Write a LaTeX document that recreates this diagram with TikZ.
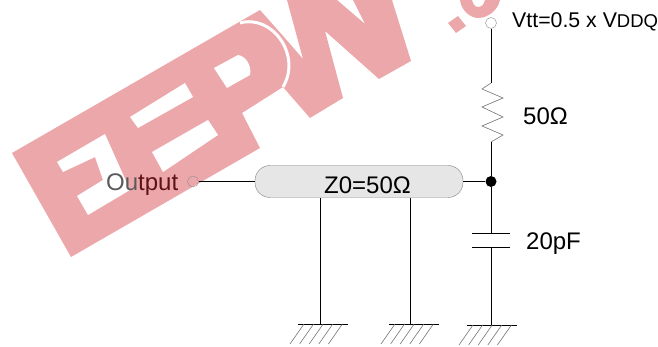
\documentclass[tikz,border=0pt]{standalone}
\usepackage{fontspec}
\setmainfont{Liberation Sans}
\definecolor{markpink}{HTML}{ECA7AB}
\definecolor{pillgray}{HTML}{E6E6E6}
\definecolor{outdark}{HTML}{5A5A5A}
\definecolor{outred}{HTML}{5E1218}
\begin{document}
\begin{tikzpicture}[x=1pt,y=-1pt]
	\tikzstyle{wire}=[draw=black,line width=1pt]
	\tikzstyle{thin part}=[draw=black!55,line width=0.6pt]
	\tikzstyle{port}=[circle,draw=black!45,minimum size=11pt,inner sep=0pt]
	\tikzstyle{junction}=[circle,fill=black,minimum size=11pt,inner sep=0pt]
	\tikzstyle{pill}=[draw=black!50,fill=pillgray,rounded corners=15pt,minimum width=208pt,minimum height=32pt,inner sep=0pt]
	\tikzstyle{annot}=[anchor=base west,inner sep=0pt,font=\fontsize{24}{24}\selectfont]
	\tikzstyle{stamp}=[fill=markpink,draw=none]
	\tikzstyle{hole}=[fill=white,draw=none]

	\useasboundingbox (0,0) rectangle (658,347);

	% Draw the watermark
	\path[stamp] (12,153) -- (71,257) -- (260,148) -- (242,113) -- (283,87) -- (310,118) -- (343,98) -- (325,31) -- (379,79) -- (411,61) -- (392,0) -- (353,0) -- (365,24) -- (337,0) -- (287,0) -- (303,59) -- (284,37) -- (260,10) -- cycle;
	\path[hole] (130,117) -- (185,83) -- (193,97) -- (138,128) -- cycle;
	\path[hole] (152,152) -- (208,120) -- (218,135) -- (163,172) -- cycle;
	\path[hole] (214,68) -- (238,55) .. controls (246,56) and (252,66) .. (250,75) -- (227,88) -- cycle;
	\path[hole] (57,162) -- (105,134) -- (130,190) -- (88,215) -- (77,196) -- (103,180) -- (95,157) -- (63,172) -- cycle;
	\draw[white,line width=3pt] (240,23) .. controls (272,14) and (302,55) .. (283,87);
	\path[stamp] (448,23) -- (458,16) -- (466,26) -- (456,33) -- cycle;
	\path[stamp] (460,0) .. controls (461,10) and (470,18) .. (478,18) .. controls (488,18) and (498,10) .. (500,0) -- (485,0) .. controls (484,5) and (481,7) .. (478,7) .. controls (475,7) and (473,4) .. (472,0) -- cycle;

	% Draw the terminals and the line
	\node[port] (output) at (193,181.5) {};
	\node[port] (vtt) at (491,23) {};
	\node[pill] (line) at (359,181.5) {};
	\node[junction] (join) at (491,181.5) {};
	\node[inner sep=0pt,font=\fontsize{24}{24}\selectfont,anchor=base] (z_label) at (367.5,194) {Z0=50Ω};

	% Draw the labels
	\node[annot] (output_label) at (106,191) {\color{outdark}Ou\color{outred}tput};
	\node[annot,font=\fontsize{21.3}{21.3}\selectfont] (vtt_label) at (512,28) {Vtt=0.5 x V{\fontsize{18.5}{18.5}\selectfont DDQ}};
	\node[annot] (res_label) at (523,125) {50Ω};
	\node[annot] (cap_label) at (526,250) {20pF};

	% Draw the resistor
	\coordinate (res_top) at (491,83);
	\coordinate (res_bot) at (491,142);
	\draw[thin part] (res_top) -- (482,89) -- (503,98) -- (482,107) -- (503,117) -- (482,126) -- (503,135) -- (res_bot);

	% Draw the capacitor
	\coordinate (cap_top) at (491,234);
	\coordinate (cap_bot) at (491,248);
	\draw[wire] (472,234) -- (510,234);
	\draw[wire] (472,248) -- (510,248);

	% Draw the grounds
	\coordinate (gnd_a) at (320,324);
	\coordinate (gnd_b) at (410,324);
	\coordinate (gnd_c) at (491,325);
	\draw[wire] (298,324) -- (348,324);
	\draw[wire] (389,324) -- (439,324);
	\draw[wire] (467,325) -- (517,325);
	\foreach \gx in {304,313.6,323.2,332.8,342.4}
		\draw[thin part] (\gx,324) -- ++(-14,20);
	\foreach \gx in {395,404.6,414.2,423.8,433.4}
		\draw[thin part] (\gx,324) -- ++(-14,20);
	\foreach \gx in {473,482.6,492.2,501.8,511.4}
		\draw[thin part] (\gx,325) -- ++(-14,20);

	% Draw the taps under the line
	\coordinate (tap_a) at (320,198);
	\coordinate (tap_b) at (410,198);

	% Draw wires
	\path[wire] (output) edge (line);
	\path[wire] (line) edge (join);
	\path[wire] (vtt) edge (res_top);
	\path[wire] (res_bot) edge (join);
	\path[wire] (join) edge (cap_top);
	\path[wire] (cap_bot) edge (gnd_c);
	\path[wire] (tap_a) edge (gnd_a);
	\path[wire] (tap_b) edge (gnd_b);
\end{tikzpicture}
\end{document}
